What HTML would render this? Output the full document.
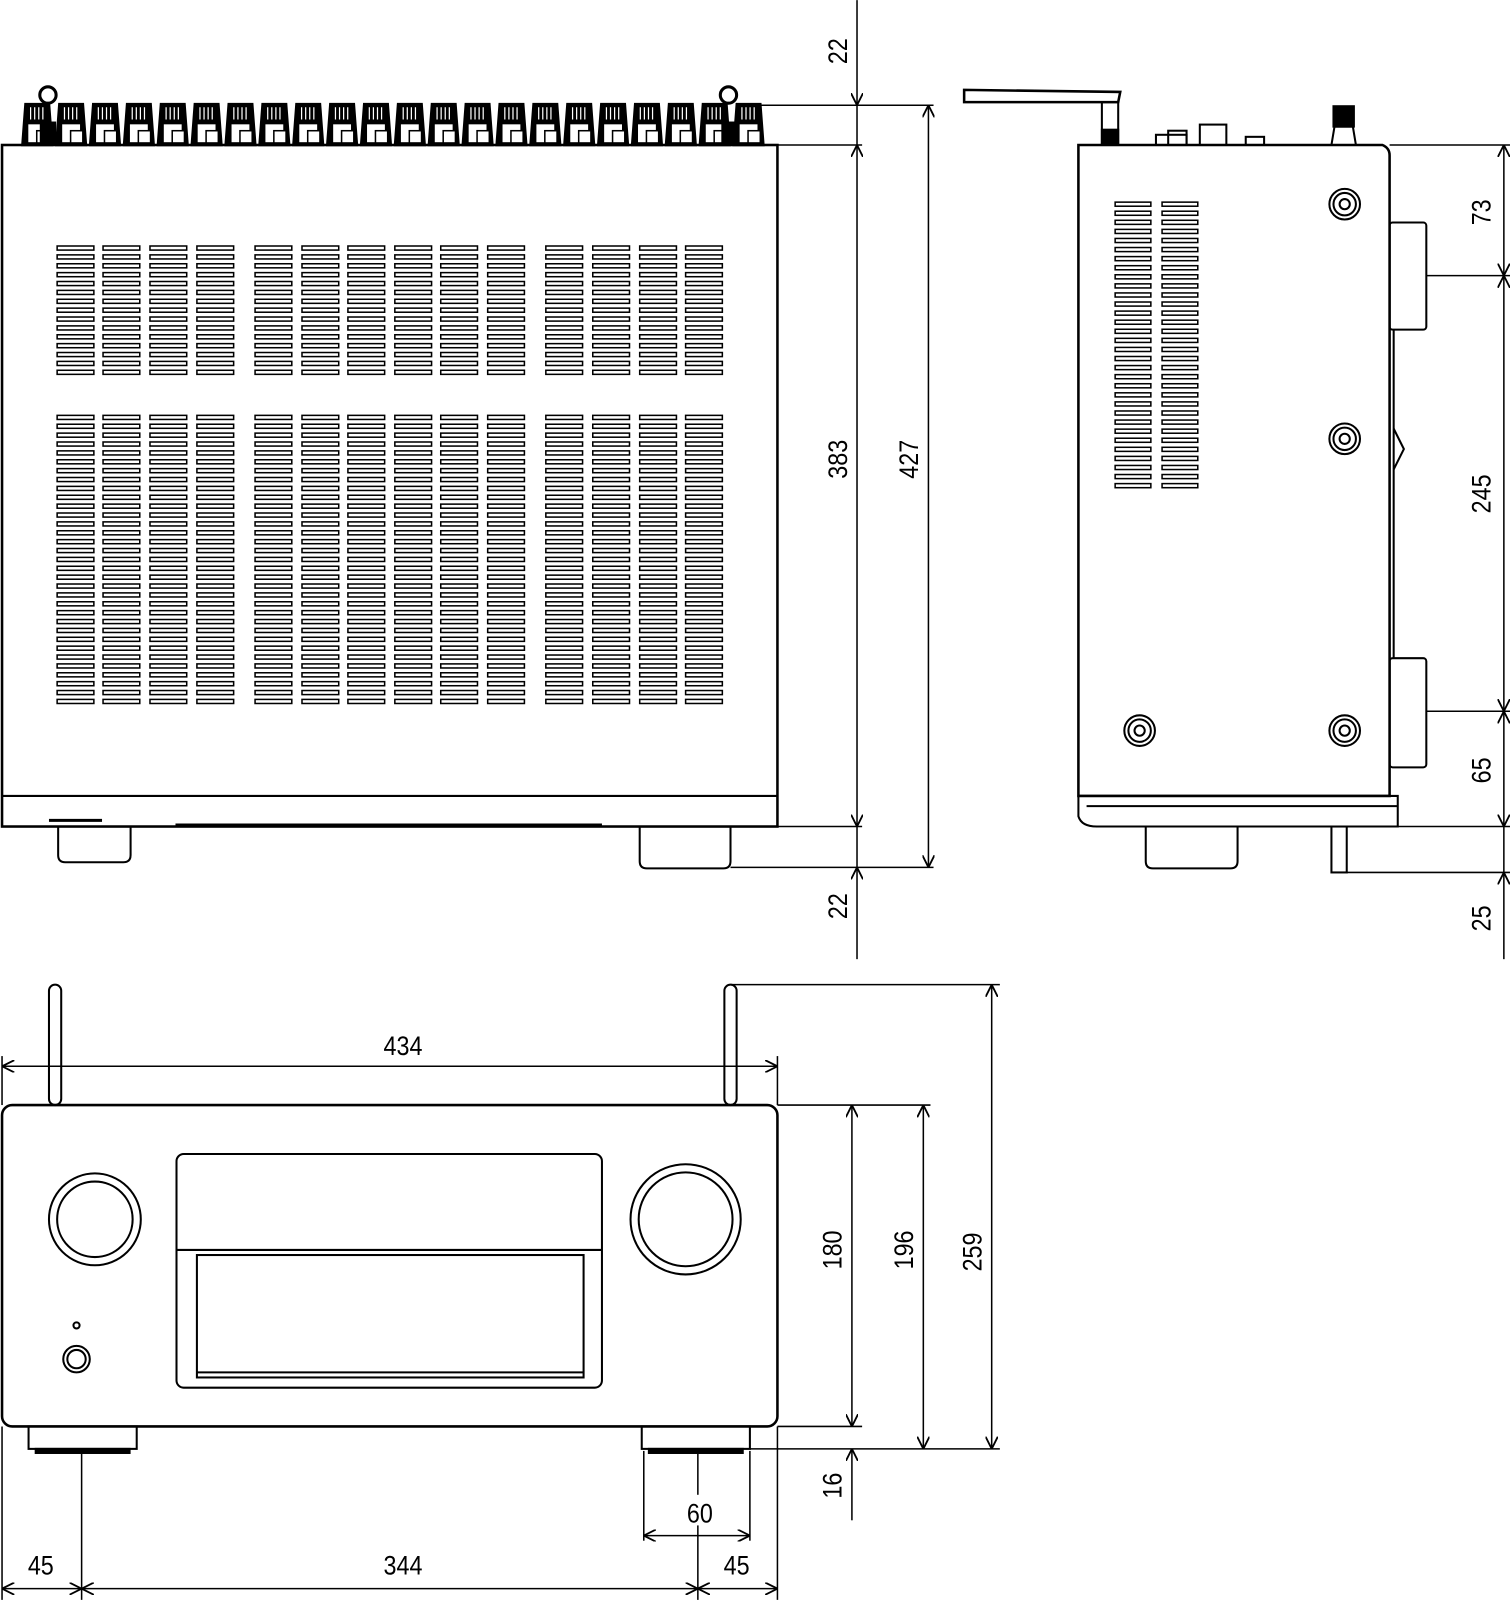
<!DOCTYPE html>
<html><head><meta charset="utf-8"><style>
html,body{margin:0;padding:0;background:#fff;}
svg{display:block;}
text{font-family:"Liberation Sans",sans-serif;font-size:26px;fill:#000;}
</style></head><body>
<svg id="s" xmlns="http://www.w3.org/2000/svg" width="1511" height="1600" viewBox="0 0 1481 1568" fill="none" stroke="#000" stroke-width="2">
<defs>
<marker id="a" viewBox="0 0 12 12" refX="12" refY="6" markerWidth="12" markerHeight="12" markerUnits="userSpaceOnUse" orient="auto-start-reverse">
<path d="M0,0 L12,6 L0,12" fill="none" stroke="#000" stroke-width="1.8"/></marker>
</defs>
<g id="g"></g>
<!-- TOP VIEW -->
<rect x="2" y="142" width="760" height="668" stroke-width="2.5"/>
<line x1="2" y1="780" x2="762" y2="780"/>
<line x1="172" y1="808" x2="590" y2="808"/>
<line x1="48" y1="804" x2="100" y2="804" stroke-width="3"/>
<path d="M57,810 V838 Q57,845 64,845 H121 Q128,845 128,838 V810"/>
<path d="M627,810 V844 Q627,851 634,851 H709 Q716,851 716,844 V810"/>
<circle cx="47" cy="93" r="8" stroke-width="3"/><circle cx="714" cy="93" r="8" stroke-width="3"/>
<!-- SIDE VIEW -->
<path d="M1057,142 H1355 Q1362,145 1362,152 V780 H1057 Z" stroke-width="2.5"/>
<path d="M1057,780 V800 Q1060,810 1075,810 H1370 V780 Z"/>
<line x1="1065" y1="790" x2="1370" y2="790"/>
<path d="M1123,810 V844 Q1123,851 1130,851 H1206 Q1213,851 1213,844 V810"/>
<rect x="1305" y="810" width="15" height="45"/>
<rect x="1362" y="218" width="36" height="105" rx="3"/>
<rect x="1362" y="645" width="36" height="107" rx="3"/>
<line x1="1366" y1="323" x2="1366" y2="645"/>
<path d="M1366,420 L1376,440 L1366,460"/>
<path d="M945,88 L1098,90 L1096,100 L945,100 Z" stroke-width="2.5"/>
<rect x="1080" y="100" width="16" height="42"/>
<rect x="1080" y="127" width="16" height="15" fill="#000"/>
<rect x="1133" y="132" width="30" height="10"/><rect x="1145" y="128" width="18" height="14"/>
<rect x="1176" y="122" width="26" height="20"/>
<rect x="1221" y="134" width="18" height="8"/>
<path d="M1305,142 L1308,124 H1326 L1329,142 Z"/><rect x="1307" y="104" width="20" height="20" fill="#000"/>
<!-- FRONT VIEW -->
<rect x="2" y="1083" width="760" height="315" rx="10" stroke-width="2.5"/>
<rect x="48" y="965" width="12" height="118" rx="6"/>
<rect x="710" y="965" width="12" height="118" rx="6"/>
<rect x="173" y="1131" width="417" height="229" rx="7"/>
<line x1="173" y1="1225" x2="590" y2="1225"/>
<rect x="193" y="1230" width="379" height="120"/>
<line x1="193" y1="1345" x2="572" y2="1345"/>
<circle cx="93" cy="1195" r="45"/><circle cx="93" cy="1195" r="37"/>
<circle cx="672" cy="1195" r="54"/><circle cx="672" cy="1195" r="46"/>
<circle cx="75" cy="1299" r="3"/>
<circle cx="75" cy="1332" r="13"/><circle cx="75" cy="1332" r="9"/>
<rect x="28" y="1398" width="106" height="22"/><rect x="35" y="1420" width="92" height="4" fill="#000"/>
<rect x="629" y="1398" width="106" height="22"/><rect x="636" y="1420" width="92" height="4" fill="#000"/>
<!-- DIMENSIONS -->
<g stroke-width="1.5">
<line x1="745" y1="103" x2="915" y2="103"/><line x1="762" y1="142" x2="845" y2="142"/>
<line x1="762" y1="810" x2="845" y2="810"/><line x1="716" y1="850" x2="915" y2="850"/>
<line x1="840" y1="0" x2="840" y2="103" marker-end="url(#a)"/>
<line x1="840" y1="142" x2="840" y2="810" marker-start="url(#a)" marker-end="url(#a)"/>
<line x1="840" y1="940" x2="840" y2="850" marker-end="url(#a)"/>
<line x1="840" y1="103" x2="840" y2="142"/><line x1="840" y1="810" x2="840" y2="850"/>
<line x1="910" y1="103" x2="910" y2="850" marker-start="url(#a)" marker-end="url(#a)"/>
<line x1="1362" y1="142" x2="1480" y2="142"/><line x1="1398" y1="270" x2="1480" y2="270"/>
<line x1="1398" y1="697" x2="1480" y2="697"/><line x1="1370" y1="810" x2="1480" y2="810"/>
<line x1="1320" y1="855" x2="1480" y2="855"/>
<line x1="1474" y1="142" x2="1474" y2="270" marker-start="url(#a)" marker-end="url(#a)"/>
<line x1="1474" y1="270" x2="1474" y2="697" marker-start="url(#a)" marker-end="url(#a)"/>
<line x1="1474" y1="697" x2="1474" y2="810" marker-start="url(#a)" marker-end="url(#a)"/>
<line x1="1474" y1="810" x2="1474" y2="855"/>
<line x1="1474" y1="940" x2="1474" y2="855" marker-end="url(#a)"/>
<line x1="2" y1="1045" x2="762" y2="1045" marker-start="url(#a)" marker-end="url(#a)"/>
<line x1="2" y1="1035" x2="2" y2="1083"/><line x1="762" y1="1035" x2="762" y2="1083"/>
<line x1="762" y1="1083" x2="912" y2="1083"/><line x1="716" y1="965" x2="980" y2="965"/>
<line x1="735" y1="1420" x2="980" y2="1420"/><line x1="762" y1="1398" x2="845" y2="1398"/>
<line x1="835" y1="1083" x2="835" y2="1398" marker-start="url(#a)" marker-end="url(#a)"/>
<line x1="905" y1="1083" x2="905" y2="1420" marker-start="url(#a)" marker-end="url(#a)"/>
<line x1="972" y1="965" x2="972" y2="1420" marker-start="url(#a)" marker-end="url(#a)"/>
<line x1="835" y1="1490" x2="835" y2="1420" marker-end="url(#a)"/>
<line x1="2" y1="1398" x2="2" y2="1568"/><line x1="80" y1="1425" x2="80" y2="1568"/>
<line x1="684" y1="1425" x2="684" y2="1465"/><line x1="684" y1="1495" x2="684" y2="1568"/>
<line x1="762" y1="1398" x2="762" y2="1568"/>
<line x1="631" y1="1422" x2="631" y2="1510"/><line x1="735" y1="1422" x2="735" y2="1510"/>
<line x1="631" y1="1505" x2="735" y2="1505" marker-start="url(#a)" marker-end="url(#a)"/>
<line x1="2" y1="1557" x2="80" y2="1557" marker-start="url(#a)" marker-end="url(#a)"/>
<line x1="80" y1="1557" x2="684" y2="1557" marker-start="url(#a)" marker-end="url(#a)"/>
<line x1="684" y1="1557" x2="762" y2="1557" marker-start="url(#a)" marker-end="url(#a)"/>
</g>
<g stroke="none" text-anchor="middle">
<text transform="translate(830,50) rotate(-90) scale(0.88,1)" y="0">22</text>
<text transform="translate(830,450) rotate(-90) scale(0.88,1)">383</text>
<text transform="translate(830,888) rotate(-90) scale(0.88,1)">22</text>
<text transform="translate(900,450) rotate(-90) scale(0.88,1)">427</text>
<text transform="translate(1461,208) rotate(-90) scale(0.88,1)">73</text>
<text transform="translate(1461,484) rotate(-90) scale(0.88,1)">245</text>
<text transform="translate(1461,755) rotate(-90) scale(0.88,1)">65</text>
<text transform="translate(1461,900) rotate(-90) scale(0.88,1)">25</text>
<text transform="translate(825,1225) rotate(-90) scale(0.88,1)">180</text>
<text transform="translate(895,1225) rotate(-90) scale(0.88,1)">196</text>
<text transform="translate(962,1227) rotate(-90) scale(0.88,1)">259</text>
<text transform="translate(825,1456) rotate(-90) scale(0.88,1)">16</text>
<text transform="translate(395,1034) scale(0.88,1)">434</text>
<text transform="translate(686,1492) scale(0.88,1)">60</text>
<text transform="translate(40,1543) scale(0.88,1)">45</text>
<text transform="translate(395,1543) scale(0.88,1)">344</text>
<text transform="translate(722,1543) scale(0.88,1)">45</text>
</g>
</svg>
<script>
var g=document.getElementById('g'),NS='http://www.w3.org/2000/svg';
function el(t,a){var e=document.createElementNS(NS,t);for(var k in a)e.setAttribute(k,a[k]);g.appendChild(e);return e;}
function louv(x,y0,y1,w,p){for(var y=y0;y+4<=y1;y+=p)el('rect',{x:x,y:y,width:w,height:4,'stroke-width':1.5});}
var cols=[56,101,147,193,250,296,341,387,432,478,535,581,627,672];
cols.forEach(function(x){louv(x,241,370,36,8.7);louv(x,407,694,36,8.7);});
[1093,1139].forEach(function(x){louv(x,198,484,35,8.9);});
for(var i=0;i<22;i++){var x=22+i*33.2;
el('path',{d:'M'+x+',142 L'+(x+3)+',102 H'+(x+26)+' L'+(x+29)+',142 Z','stroke-width':2.5,fill:'#000'});
for(var j=0;j<4;j++)el('line',{x1:x+8+j*4,y1:105,x2:x+8+j*4,y2:117,stroke:'#fff','stroke-width':1.2});
el('rect',{x:x+5,y:121,width:19,height:19,fill:'#fff','stroke-width':1.5});
el('rect',{x:x+14,y:128,width:12,height:12,fill:'#fff','stroke-width':1.5});}
el('rect',{x:40,y:120,width:14,height:22,fill:'#000'});
el('rect',{x:708,y:120,width:14,height:22,fill:'#000'});
[[1318,200],[1318,430],[1318,716],[1117,716]].forEach(function(c){
el('circle',{cx:c[0],cy:c[1],r:15});el('circle',{cx:c[0],cy:c[1],r:11});el('circle',{cx:c[0],cy:c[1],r:5});});
</script>
</body></html>
